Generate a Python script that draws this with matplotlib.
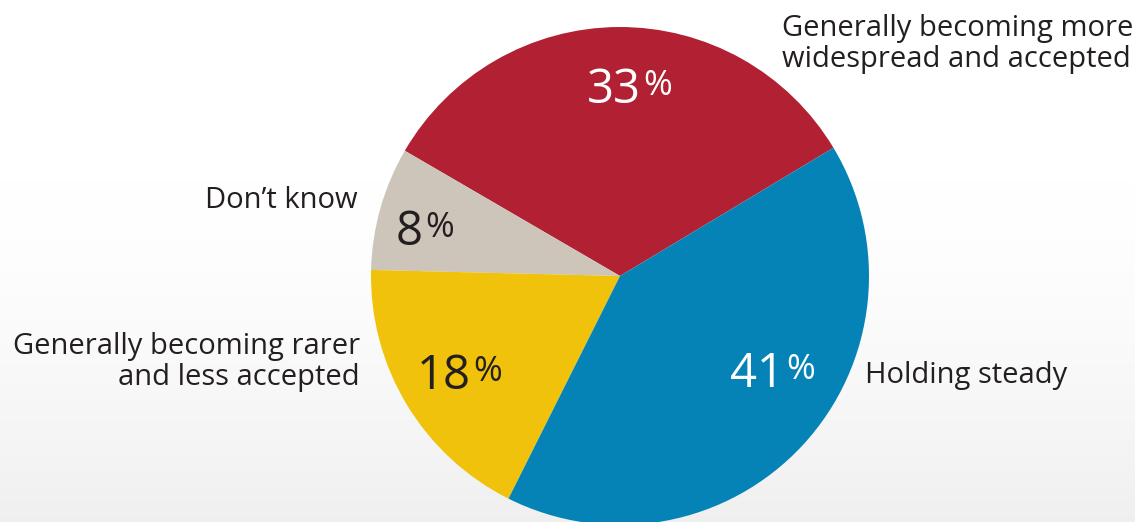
import numpy as np
import matplotlib.pyplot as plt

# share of responses, counter-clockwise from the upper right edge of the red slice
labels = ['Generally becoming more\nwidespread and accepted', 'Don\u2019t know',
          'Generally becoming rarer\nand less accepted', 'Holding steady']
shares = [33, 8, 18, 41]
colors = ['#B22133', '#CDC5B9', '#F0C20B', '#0683B6']
num_colors = ['white', '#231F20', '#231F20', 'white']

plt.rcParams['font.family'] = ['Open Sans', 'DejaVu Sans']
W, H = 1135, 522
fig = plt.figure(figsize=(W / 100, H / 100), dpi=100)
ax = fig.add_axes([0, 0, 1, 1])

# faint grey haze towards the bottom
grad = np.linspace(0, 1, 200)[:, None]
grad = np.clip((grad - 0.35) / 0.65, 0, 1) ** 1.5
bg = np.ones((200, 2, 3)) - grad[..., None] * 0.06
ax.imshow(bg, extent=[0, W, 0, H], aspect='auto', zorder=0, origin='upper')

cx, cy, r = 620, H - 276, 249
ax.pie(shares, colors=colors, startangle=31, counterclock=True,
       center=(cx, cy), radius=r, frame=True,
       wedgeprops=dict(linewidth=0))
ax.set_xlim(0, W)
ax.set_ylim(0, H)
ax.set_aspect('equal')
ax.axis('off')

# big number: right edge and baseline; % sign sits high, like a superscript
num_pos = [(641, 103), (423, 245), (471, 389), (784, 387)]
for v, (x, y), c in zip(shares, num_pos, num_colors):
    ax.text(x, H - y, str(v), fontsize=34, color=c, ha='right', va='baseline', zorder=5)
    ax.text(x + 2, H - y + 8, '%', fontsize=25, color=c, ha='left', va='baseline', zorder=5)

txt = dict(fontsize=21, color='#231F20', linespacing=1.1, zorder=5)
ax.text(782, H - 67, labels[0], ha='left', va='baseline', **txt)
ax.text(358, H - 208, labels[1], ha='right', va='baseline', **txt)
ax.text(360, H - 385, labels[2], ha='right', va='baseline', multialignment='right', **txt)
ax.text(865, H - 383, labels[3], ha='left', va='baseline', **txt)

fig.savefig('out.png', dpi=100)
